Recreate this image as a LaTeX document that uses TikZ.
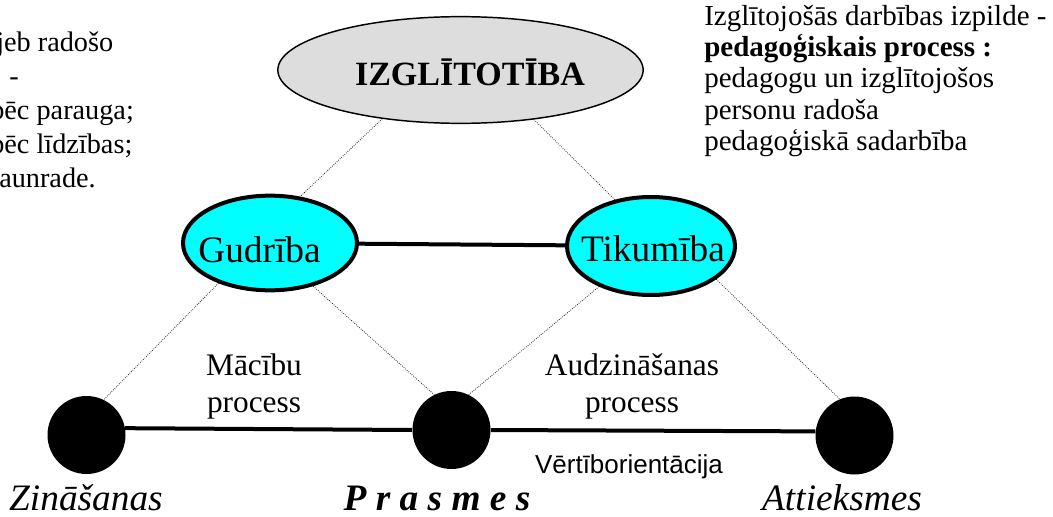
\documentclass[tikz,border=0pt]{standalone}
\usepackage{fontspec}
\setmainfont{Liberation Serif}
\setsansfont{Liberation Sans}
\usetikzlibrary{shapes.geometric}
\definecolor{ovalgray}{RGB}{221,221,221}
\definecolor{bubblecyan}{RGB}{0,255,255}

\begin{document}
\begin{tikzpicture}[x=0.75pt,y=0.75pt,yscale=-1,xscale=1,
    topoval/.style={ellipse, draw, line width=1.1pt, fill=ovalgray, inner sep=0pt},
    bubble/.style={ellipse, draw, line width=3pt, fill=bubblecyan, inner sep=0pt},
    blackdot/.style={circle, fill=black, inner sep=0pt, minimum size=58.5pt},
    link/.style={line width=3pt},
    guide/.style={densely dotted, line width=0.6pt, black!85}]
%set diagram left start at 0, and has height of 517
    \useasboundingbox (0,0) rectangle (1053,517);

%Ellipse [top]
    \draw (460.5,70) node (izg) [topoval, minimum width=274pt, minimum height=80pt] {};
%Ellipse [cyan]
    \draw (270,243) node (gud) [bubble, minimum width=130.5pt, minimum height=71pt] {};
%Ellipse [cyan]
    \draw (651,246) node (tik) [bubble, minimum width=126pt, minimum height=73.5pt] {};
%Circles [black]
    \draw (86.5,435) node (zin) [blackdot] {};
    \draw (451.5,430) node (pras) [blackdot] {};
    \draw (854.5,435.5) node (att) [blackdot] {};

%Straight Lines [thick]
    \draw [link] (gud) -- (tik) ;
    \draw [link] (zin.10) -- (pras.west) ;
    \draw [link] (pras.east) -- (att.174) ;
%Straight Lines [dotted]
    \draw [guide] (izg.212) -- (gud.57) ;
    \draw [guide] (izg.-34) -- (tik.128) ;
    \draw [guide] (gud.218) -- (zin.64) ;
    \draw [guide] (gud.-45) -- (pras.116) ;
    \draw [guide] (tik.218) -- (pras.64) ;
    \draw [guide] (tik.-27) -- (att.112) ;

% Text Node
    \draw (470,85) node (izgtext) [anchor=base] [font=\fontsize{25.5pt}{30pt}\selectfont\bfseries] {IZGLĪTOTĪBA};
% Text Node
    \draw (259.5,262) node (gudtext) [anchor=base] [font=\fontsize{28pt}{33pt}\selectfont] {Gudrība};
% Text Node
    \draw (653,261) node (tiktext) [anchor=base] [font=\fontsize{28pt}{33pt}\selectfont] {Tikumība};
% Text Node
    \draw (254,386.5) node (macibu) [font=\fontsize{23.5pt}{28.2pt}\selectfont] [align=center] {Mācību\\process};
% Text Node
    \draw (632,386.5) node (audz) [font=\fontsize{23.5pt}{28.2pt}\selectfont] [align=center] {Audzināšanas\\process};
% Text Node
    \draw (629,473) node (vert) [anchor=base] [font=\fontsize{19.5pt}{23pt}\selectfont\sffamily] {Vērtīborientācija};
% Text Node
    \draw (86,510) node (zintext) [anchor=base] [font=\fontsize{28pt}{33pt}\selectfont\itshape] {Zināšanas};
% Text Node
    \draw (437,510) node (prastext) [anchor=base] [font=\fontsize{28pt}{33pt}\selectfont\bfseries\itshape] {P r a s m e s};
% Text Node
    \draw (842,510) node (atttext) [anchor=base] [font=\fontsize{28pt}{33pt}\selectfont\itshape] {Attieksmes};

% Text Node [left block]
    \draw (-4,52) node (left1) [anchor=base west][inner sep=0pt] [font=\fontsize{21.2pt}{25pt}\selectfont] {jeb radošo};
    \draw (9,86) node (left2) [anchor=base west][inner sep=0pt] [font=\fontsize{21.2pt}{25pt}\selectfont] {-};
    \draw (-10,119) node (left3) [anchor=base west][inner sep=0pt] [font=\fontsize{21.2pt}{25pt}\selectfont] {pēc parauga;};
    \draw (-10,153) node (left4) [anchor=base west][inner sep=0pt] [font=\fontsize{21.2pt}{25pt}\selectfont] {pēc līdzības;};
    \draw (-1,187) node (left5) [anchor=base west][inner sep=0pt] [font=\fontsize{21.2pt}{25pt}\selectfont] {aunrade.};
% Text Node [right block]
    \draw (704,5) node (right) [anchor=north west][inner sep=0pt] [font=\fontsize{21.75pt}{23.4pt}\selectfont] [align=left] {Izglītojošās darbības izpilde -\\\textbf{pedagoģiskais process :}\\pedagogu un izglītojošos\\personu radoša\\pedagoģiskā sadarbība};

\end{tikzpicture}
\end{document}
